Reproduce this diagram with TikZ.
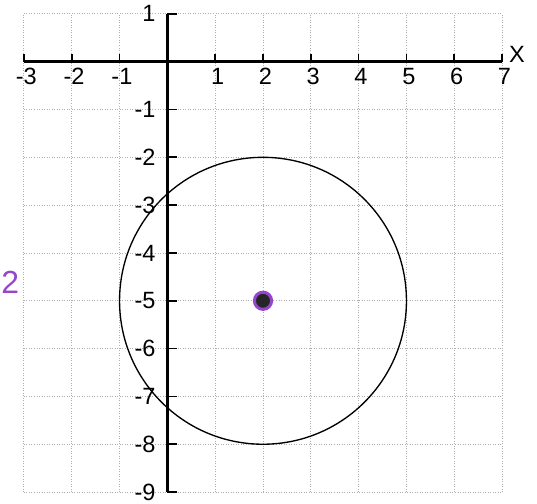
\documentclass[tikz,border=0pt]{standalone}
\usepackage{fontspec}
\setsansfont{Liberation Sans}
\definecolor{gridgray}{RGB}{175, 175, 175}
\definecolor{penpurple}{RGB}{150, 70, 205}
\usepackage{tikz}
\usetikzlibrary{positioning}

\begin{document}
\begin{tikzpicture}[
    gridline/.style={gridgray, densely dotted, line width=0.5pt},
    axisline/.style={black, line width=1.5pt},
    ticklabel/.style={font=\sffamily\fontsize{14}{16}\selectfont, inner sep=0pt}
  ]
  \useasboundingbox (-3.5, -9.23) rectangle (7.73, 1.29);

  % Grid
  \draw[gridline] (-3, -9) grid (7, 1);

  % Axes
  \coordinate (xstart) at (-3, 0);
  \coordinate (xend) at (7, 0);
  \coordinate (ybot) at (0, -9);
  \coordinate (ytop) at (0, 1);
  \draw[axisline] (xstart) -- (xend);
  \draw[axisline] (ybot) -- (ytop);
  \foreach \x in {-3,...,7}
    \draw[axisline, line width=1pt] (\x, 0) -- (\x, 0.17);
  \foreach \y in {-9,...,1}
    \draw[axisline, line width=1pt] (0, \y) -- (0.2, \y);

  % Tick labels
  \foreach \x in {-3,-2,-1,1,2,3,4,5,6,7}
    \node[ticklabel, anchor=north] (xl\x) at (\x + 0.05, -0.13) {\x};
  \foreach \y in {-9,...,-1,1}
    \node[ticklabel, anchor=east] (yl\y) at (-0.24, \y) {\y};
  \node[ticklabel, anchor=west] (xname) at (7.14, 0.15) {X};

  % Circle with centre (2,-5) and radius 3
  \coordinate (ctr) at (2, -5);
  \draw[black, line width=0.8pt] (ctr) circle (3);
  \node[circle, draw=penpurple, line width=1.8pt, fill=black!85,
        minimum size=0.36cm, inner sep=0pt] (ctrdot) at (ctr) {};

  % Handwritten mark on the left edge
  \node[penpurple, font=\sffamily\fontsize{19}{21}\selectfont, inner sep=0pt,
        anchor=west] (mark) at (-3.48, -4.62) {2};
\end{tikzpicture}
\end{document}
